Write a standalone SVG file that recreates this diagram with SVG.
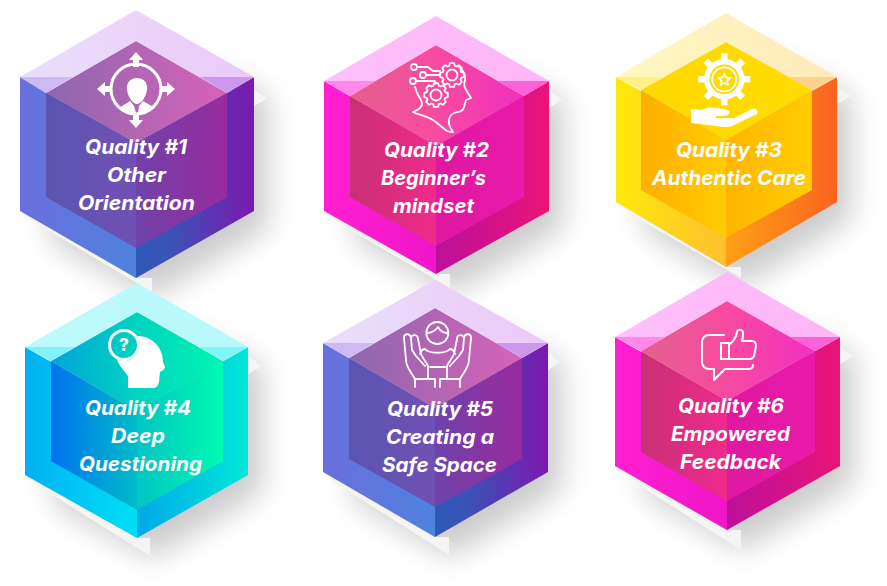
<svg xmlns="http://www.w3.org/2000/svg" width="887" height="586" viewBox="0 0 887 586">
<defs>
<filter id="blur" x="-40%" y="-40%" width="180%" height="180%"><feGaussianBlur stdDeviation="15"/></filter>
<polygon id="gear" points="-2.8,-9.2 -2.1,-11.8 2.1,-11.8 2.8,-9.2 4.5,-8.5 6.9,-9.8 9.8,-6.9 8.5,-4.5 9.2,-2.8 11.8,-2.1 11.8,2.1 9.2,2.8 8.5,4.5 9.8,6.9 6.9,9.8 4.5,8.5 2.8,9.2 2.1,11.8 -2.1,11.8 -2.8,9.2 -4.5,8.5 -6.9,9.8 -9.8,6.9 -8.5,4.5 -9.2,2.8 -11.8,2.1 -11.8,-2.1 -9.2,-2.8 -8.5,-4.5 -9.8,-6.9 -6.9,-9.8 -4.5,-8.5"/>
<linearGradient id="pOL"><stop offset="0" stop-color="#6a6fdc"/><stop offset="1" stop-color="#4f82de"/></linearGradient>
<linearGradient id="pOR"><stop offset="0" stop-color="#2f5ab6"/><stop offset=".3" stop-color="#3a52b6"/><stop offset="1" stop-color="#7c18ae"/></linearGradient>
<linearGradient id="pIL"><stop offset="0" stop-color="#5a55b0"/><stop offset="1" stop-color="#7150b4"/></linearGradient>
<linearGradient id="pIR"><stop offset="0" stop-color="#6f42aa"/><stop offset="1" stop-color="#9a2a9e"/></linearGradient>
<linearGradient id="pIT"><stop offset="0" stop-color="#8c68ae"/><stop offset="1" stop-color="#d862b8"/></linearGradient>
<linearGradient id="pB"><stop offset="0" stop-color="#e9dffb"/><stop offset="1" stop-color="#ecc9f8"/></linearGradient>
<linearGradient id="kOL"><stop offset="0" stop-color="#ff1fd0"/><stop offset="1" stop-color="#ee16c8"/></linearGradient>
<linearGradient id="kOR"><stop offset="0" stop-color="#bb109a"/><stop offset="1" stop-color="#ea1478"/></linearGradient>
<linearGradient id="kIL"><stop offset="0" stop-color="#c83075"/><stop offset="1" stop-color="#f02a8c"/></linearGradient>
<linearGradient id="kIR"><stop offset="0" stop-color="#de18a0"/><stop offset="1" stop-color="#ea1aaa"/></linearGradient>
<linearGradient id="kIT"><stop offset="0" stop-color="#e4608e"/><stop offset=".5" stop-color="#f84aa0"/><stop offset="1" stop-color="#f030c0"/></linearGradient>
<linearGradient id="kB"><stop offset="0" stop-color="#ffc0fb"/><stop offset="1" stop-color="#fdb6f6"/></linearGradient>
<linearGradient id="yOL"><stop offset="0" stop-color="#ffe80a"/><stop offset="1" stop-color="#ffc030"/></linearGradient>
<linearGradient id="yOR"><stop offset="0" stop-color="#ffa015"/><stop offset="1" stop-color="#f96322"/></linearGradient>
<linearGradient id="yIL"><stop offset="0" stop-color="#ffae00"/><stop offset="1" stop-color="#ffcc00"/></linearGradient>
<linearGradient id="yIR"><stop offset="0" stop-color="#ffb600"/><stop offset="1" stop-color="#ffcc00"/></linearGradient>
<linearGradient id="yIT"><stop offset="0" stop-color="#ffd800"/><stop offset="1" stop-color="#ffdc00"/></linearGradient>
<linearGradient id="yB"><stop offset="0" stop-color="#fff8c0"/><stop offset="1" stop-color="#ffeabc"/></linearGradient>
<linearGradient id="tOL"><stop offset="0" stop-color="#00b0f2"/><stop offset="1" stop-color="#00e0f5"/></linearGradient>
<linearGradient id="tOR"><stop offset="0" stop-color="#00a8e8"/><stop offset="1" stop-color="#00e8d8"/></linearGradient>
<linearGradient id="tIL"><stop offset="0" stop-color="#0072f0"/><stop offset="1" stop-color="#00bcc8"/></linearGradient>
<linearGradient id="tIR"><stop offset="0" stop-color="#00c4c4"/><stop offset="1" stop-color="#00fbb0"/></linearGradient>
<linearGradient id="tIT"><stop offset="0" stop-color="#00a4d8"/><stop offset=".5" stop-color="#00d4c0"/><stop offset="1" stop-color="#00f4b0"/></linearGradient>
<linearGradient id="tB"><stop offset="0" stop-color="#bdfafc"/><stop offset="1" stop-color="#b8f8fb"/></linearGradient>
<mask id="m4" maskUnits="userSpaceOnUse" x="100" y="320" width="80" height="80"><rect x="100" y="320" width="80" height="80" fill="#fff"/><circle cx="124" cy="345" r="16" fill="#000"/></mask>
</defs>
<style>
.pale{fill:#f5f5f5}
.sh{fill:#000;opacity:.2;filter:url(#blur)}
.p .ol{fill:url(#pOL)}.p .or{fill:url(#pOR)}.p .il{fill:url(#pIL)}.p .ir{fill:url(#pIR)}.p .it{fill:url(#pIT)}.p .b{fill:url(#pB)}.p .tl{fill:#cdb9f3}.p .tr{fill:#cd98ec}
.k .ol{fill:url(#kOL)}.k .or{fill:url(#kOR)}.k .il{fill:url(#kIL)}.k .ir{fill:url(#kIR)}.k .it{fill:url(#kIT)}.k .b{fill:url(#kB)}.k .tl{fill:#ff88ea}.k .tr{fill:#ff62d8}
.y .ol{fill:url(#yOL)}.y .or{fill:url(#yOR)}.y .il{fill:url(#yIL)}.y .ir{fill:url(#yIR)}.y .it{fill:url(#yIT)}.y .b{fill:url(#yB)}.y .tl{fill:#fff088}.y .tr{fill:#ffd28c}
.t .ol{fill:url(#tOL)}.t .or{fill:url(#tOR)}.t .il{fill:url(#tIL)}.t .ir{fill:url(#tIR)}.t .it{fill:url(#tIT)}.t .b{fill:url(#tB)}.t .tl{fill:#80f2f8}.t .tr{fill:#80f6f6}
text{font-family:"Inter","Open Sans","Liberation Sans",sans-serif;font-weight:700;font-style:italic;font-size:20px;fill:#fff}
.ln{fill:none;stroke:#fff;stroke-width:1.8;stroke-linecap:round;stroke-linejoin:round}
.fw{fill:#fff}
</style>

<g id="backdrops">
<polygon class="sh" points="150,50 268,95 268,228 152,298 50,240 50,90"/>
<polygon class="sh" points="450,55 563,98 563,228 452,294 355,240 355,95"/>
<polygon class="sh" points="740,50 851,95 851,219 742,287 645,230 645,90"/>
<polygon class="sh" points="151,322 262,364 262,492 153,558 55,505 55,365"/>
<polygon class="sh" points="449,320 562,360 562,489 451,557 353,500 353,360"/>
<polygon class="sh" points="741,312 854,354 854,483 743,550 645,495 645,355"/>
<polygon class="pale" points="20,211 34,222 152,292 152,278 136,278"/>
<polygon class="pale" points="254,90 268,98 254,106"/>
<polygon class="pale" points="324,211 337,222 450,288 450,274 436,274"/>
<polygon class="pale" points="549,90 562,100 549,108"/>
<polygon class="pale" points="616,202 630,214 741,278 741,267 726,267"/>
<polygon class="pale" points="837,88 852,96 837,104"/>
<polygon class="pale" points="25,475 38,486 150,556 150,538 137,538"/>
<polygon class="pale" points="248,356 262,366 248,374"/>
<polygon class="pale" points="323,472 337,484 449,555 449,537 435,537"/>
<polygon class="pale" points="548,352 560,362 548,370"/>
<polygon class="pale" points="615,466 628,478 741,550 741,530 727,530"/>
<polygon class="pale" points="840,347 853,356 840,364"/>
</g>

<g id="connectors"/>

<g id="node1" class="p">
<polygon class="ol" points="20,77 136,143 136,278 20,211"/>
<polygon class="or" points="254,77 136,143 136,278 254,211"/>
<polygon class="il" points="46,93 136,143 136,248 46,197"/>
<polygon class="ir" points="227,93 136,143 136,248 227,197"/>
<polygon class="it" points="136,41 227,93 136,143 46,93"/>
<polygon class="b" points="20,77 136,10 254,77 227,93 136,41 46,93"/>
<polygon class="tl" points="20,77 73,77 46,93"/>
<polygon class="tr" points="254,77 200,77 227,93"/>
<circle cx="136" cy="89" r="25" fill="none" stroke="#fff" stroke-width="3"/>
<path class="fw" d="M136,52 L143,60 H139 V67 H133 V60 H129 Z M136,128 L143,120 H139 V113 H133 V120 H129 Z M97,89 L105,82 V86 H112 V92 H105 V96 Z M175,89 L167,82 V86 H160 V92 H167 V96 Z"/>
<path class="fw" d="M137,78 C144,78 148,83 147,90 C146,97 141,104 137,104 C133,104 128,97 127,90 C126,83 130,78 137,78 Z M119,108 L130,101 L134,106 L136,113 C130,113 124,111 119,108 Z M155,108 L143,101 L139,106 L138,113 C144,113 150,111 155,108 Z"/>
<text x="85" y="154" textLength="102" lengthAdjust="spacingAndGlyphs">Quality #1</text>
<text x="107" y="182" textLength="59" lengthAdjust="spacingAndGlyphs">Other</text>
<text x="78" y="210" textLength="117" lengthAdjust="spacingAndGlyphs">Orientation</text>
</g>

<g id="node2" class="k">
<polygon class="ol" points="324,81 436,146 436,274 324,211"/>
<polygon class="or" points="549,81 436,146 436,274 549,211"/>
<polygon class="il" points="350,96 436,146 436,246 350,197"/>
<polygon class="ir" points="524,96 436,146 436,246 524,197"/>
<polygon class="it" points="436,45 524,96 436,146 350,96"/>
<polygon class="b" points="324,81 436,16 549,81 524,96 436,45 350,96"/>
<polygon class="tl" points="324,81 376,81 350,96"/>
<polygon class="tr" points="549,81 498,81 524,96"/>
<g class="ln">
<circle cx="414" cy="67" r="3"/><circle cx="423" cy="75" r="3"/><circle cx="413" cy="81" r="3"/>
<path d="M417,67 H428 L433,71 H440 M426,75 H440 M416,81 H435 V84"/>
<use href="#gear" x="452" y="75"/><circle cx="452" cy="75" r="5.5"/>
<use href="#gear" x="436" y="95"/><circle cx="436" cy="95" r="5.5"/>
<path d="M458,66 C463,70 466,75 465,80 C464,84 464,86 465,88 L471,98 L466,100 L464,107 C463,111 460,112 457,112 C453,113 450,115 449,119 C448,124 450,128 453,132 C451,132 449,132 447,131 C441,127 438,123 433,120 C427,116 419,115 413,112 C418,110 422,107 422,104 C422,100 419,97 417,93 L415,87"/>
</g>
<text x="384" y="157" textLength="105" lengthAdjust="spacingAndGlyphs">Quality #2</text>
<text x="381" y="185" textLength="105" lengthAdjust="spacingAndGlyphs">Beginner’s</text>
<text x="393" y="213" textLength="81" lengthAdjust="spacingAndGlyphs">mindset</text>
</g>

<g id="node3" class="y">
<polygon class="ol" points="616,77 726,140 726,267 616,202"/>
<polygon class="or" points="837,77 726,140 726,267 837,202"/>
<polygon class="il" points="641,90 726,140 726,238 641,190"/>
<polygon class="ir" points="812,90 726,140 726,238 812,190"/>
<polygon class="it" points="726,42 812,90 726,140 641,90"/>
<polygon class="b" points="616,77 726,13 837,77 812,90 726,42 641,90"/>
<polygon class="tl" points="616,77 665,77 641,90"/>
<polygon class="tr" points="837,77 788,77 812,90"/>
<circle cx="724.3" cy="79.3" r="17.5" fill="none" stroke="#fff" stroke-width="5.5"/>
<path d="M724.3,53.3 V60 M724.3,98.6 V105.3 M698.3,79.3 H705 M743.6,79.3 H750.3 M705.9,60.9 L710.6,65.6 M738,93 L742.7,97.7 M742.7,60.9 L738,65.6 M710.6,93 L705.9,97.7" fill="none" stroke="#fff" stroke-width="6.5"/>
<circle cx="724.3" cy="79.3" r="12" fill="none" stroke="#fff" stroke-width="1.8"/>
<polygon points="724.3,73.5 726,77.5 730.3,77.9 727.1,80.7 728,84.9 724.3,82.7 720.6,84.9 721.5,80.7 718.3,77.9 722.6,77.5" fill="none" stroke="#fff" stroke-width="1.8" stroke-linejoin="round"/>
<path class="fw" d="M691,109 L702,110 C706,107 712,107 718,108 L724,109 C729,110 731,112 729,114 C727,116 722,116 716,116 L716,118 L734,118 L752,109 C756,107 759,111 757,114 L732,126 C727,128 722,127 716,126 L691,123 Z"/>
<text x="676" y="157" textLength="106" lengthAdjust="spacingAndGlyphs">Quality #3</text>
<text x="652" y="185" textLength="154" lengthAdjust="spacingAndGlyphs">Authentic Care</text>
</g>

<g id="node4" class="t">
<polygon class="ol" points="25,347 137,411 137,538 25,475"/>
<polygon class="or" points="248,347 137,411 137,538 248,475"/>
<polygon class="il" points="51,361 137,411 137,510 51,461"/>
<polygon class="ir" points="223,361 137,411 137,510 223,461"/>
<polygon class="it" points="137,312 223,361 137,411 51,361"/>
<polygon class="b" points="25,347 137,283 248,347 223,361 137,312 51,361"/>
<polygon class="tl" points="25,347 75,347 51,361"/>
<polygon class="tr" points="248,347 199,347 223,361"/>
<path class="fw" mask="url(#m4)" d="M128,338 C136,334 148,336 154,342 C161,348 163,356 163,362 L165,367 C165,369 162,371 160,372 L159,382 C158,386 156,388 153,388 L128,388 L128,376 C123,369 118,365 116,356 Z"/>
<circle cx="124" cy="345" r="14.5" fill="none" stroke="#fff" stroke-width="3"/>
<path class="fw" d="M133,355 L138,357 L131,358 Z"/>
<text x="124" y="351" text-anchor="middle" style="font-size:17px;font-style:normal;font-weight:800">?</text>
<text x="85" y="415" textLength="106" lengthAdjust="spacingAndGlyphs">Quality #4</text>
<text x="111" y="443" textLength="54" lengthAdjust="spacingAndGlyphs">Deep</text>
<text x="79" y="471" textLength="123" lengthAdjust="spacingAndGlyphs">Questioning</text>
</g>

<g id="node5" class="p">
<polygon class="ol" points="323,343 435,408 435,537 323,472"/>
<polygon class="or" points="548,343 435,408 435,537 548,472"/>
<polygon class="il" points="349,358 435,408 435,507 349,459"/>
<polygon class="ir" points="522,358 435,408 435,507 522,459"/>
<polygon class="it" points="435,308 522,358 435,408 349,358"/>
<polygon class="b" points="323,343 435,280 548,343 522,358 435,308 349,358"/>
<polygon class="tl" points="323,343 374,343 349,358"/>
<polygon class="tr" points="548,343 496,343 522,358"/>
<g class="ln">
<circle cx="437.3" cy="333" r="11"/>
<path d="M427,333 C431,333 435,331 438,327 C440,331 443,333 447.5,333"/>
<path d="M420,354 C421,351 423,349 425,349 C429,354 446,354 450,349 C452,349 454,351 455,354"/>
<path d="M428,366 V379 M447,366 V379 M430,367 H445"/>
<path d="M415,387 V379 H435 V387 M440,387 V379 H460 V387"/>
<path d="M415,379 C411,372 406,367 406,360 L404,338 C404,333 410,333 411,338 L412,350 M411,338 C412,334 418,334 418,339 L421,354 M412,350 L416,356 L425,366 M421,354 C423,359 427,363 428,366"/>
<path d="M460,379 C464,372 469,367 469,360 L471,338 C471,333 465,333 464,338 L463,350 M464,338 C463,334 457,334 457,339 L454,354 M463,350 L459,356 L450,366 M454,354 C452,359 448,363 447,366"/>
</g>
<text x="387" y="416" textLength="106" lengthAdjust="spacingAndGlyphs">Quality #5</text>
<text x="386" y="444" textLength="108" lengthAdjust="spacingAndGlyphs">Creating a</text>
<text x="382" y="472" textLength="115" lengthAdjust="spacingAndGlyphs">Safe Space</text>
</g>

<g id="node6" class="k">
<polygon class="ol" points="615,337 727,401 727,530 615,466"/>
<polygon class="or" points="840,337 727,401 727,530 840,466"/>
<polygon class="il" points="641,351 727,401 727,501 641,452"/>
<polygon class="ir" points="815,351 727,401 727,501 815,452"/>
<polygon class="it" points="727,301 815,351 727,401 641,351"/>
<polygon class="b" points="615,337 727,272 840,337 815,351 727,301 641,351"/>
<polygon class="tl" points="615,337 666,337 641,351"/>
<polygon class="tr" points="840,337 789,337 815,351"/>
<g class="ln" style="stroke-width:2">
<path d="M724,335 H709 C705,335 702,338 702,342 V362 C702,366 705,369 709,369 H714 V380 L725,369 H748 C751,369 753,368 753,365"/>
<path d="M721,343 H729 V359 H721 Z"/>
<path d="M730,344 C734,341 736,338 737,332 C738,329 743,329 743,333 C743,336 743,338 742,341 H752 C755,341 756,343 756,346 L754,356 C753,358 752,359 750,359 H729"/>
</g>
<text x="678" y="413" textLength="106" lengthAdjust="spacingAndGlyphs">Quality #6</text>
<text x="671" y="441" textLength="119" lengthAdjust="spacingAndGlyphs">Empowered</text>
<text x="680" y="469" textLength="101" lengthAdjust="spacingAndGlyphs">Feedback</text>
</g>
</svg>
